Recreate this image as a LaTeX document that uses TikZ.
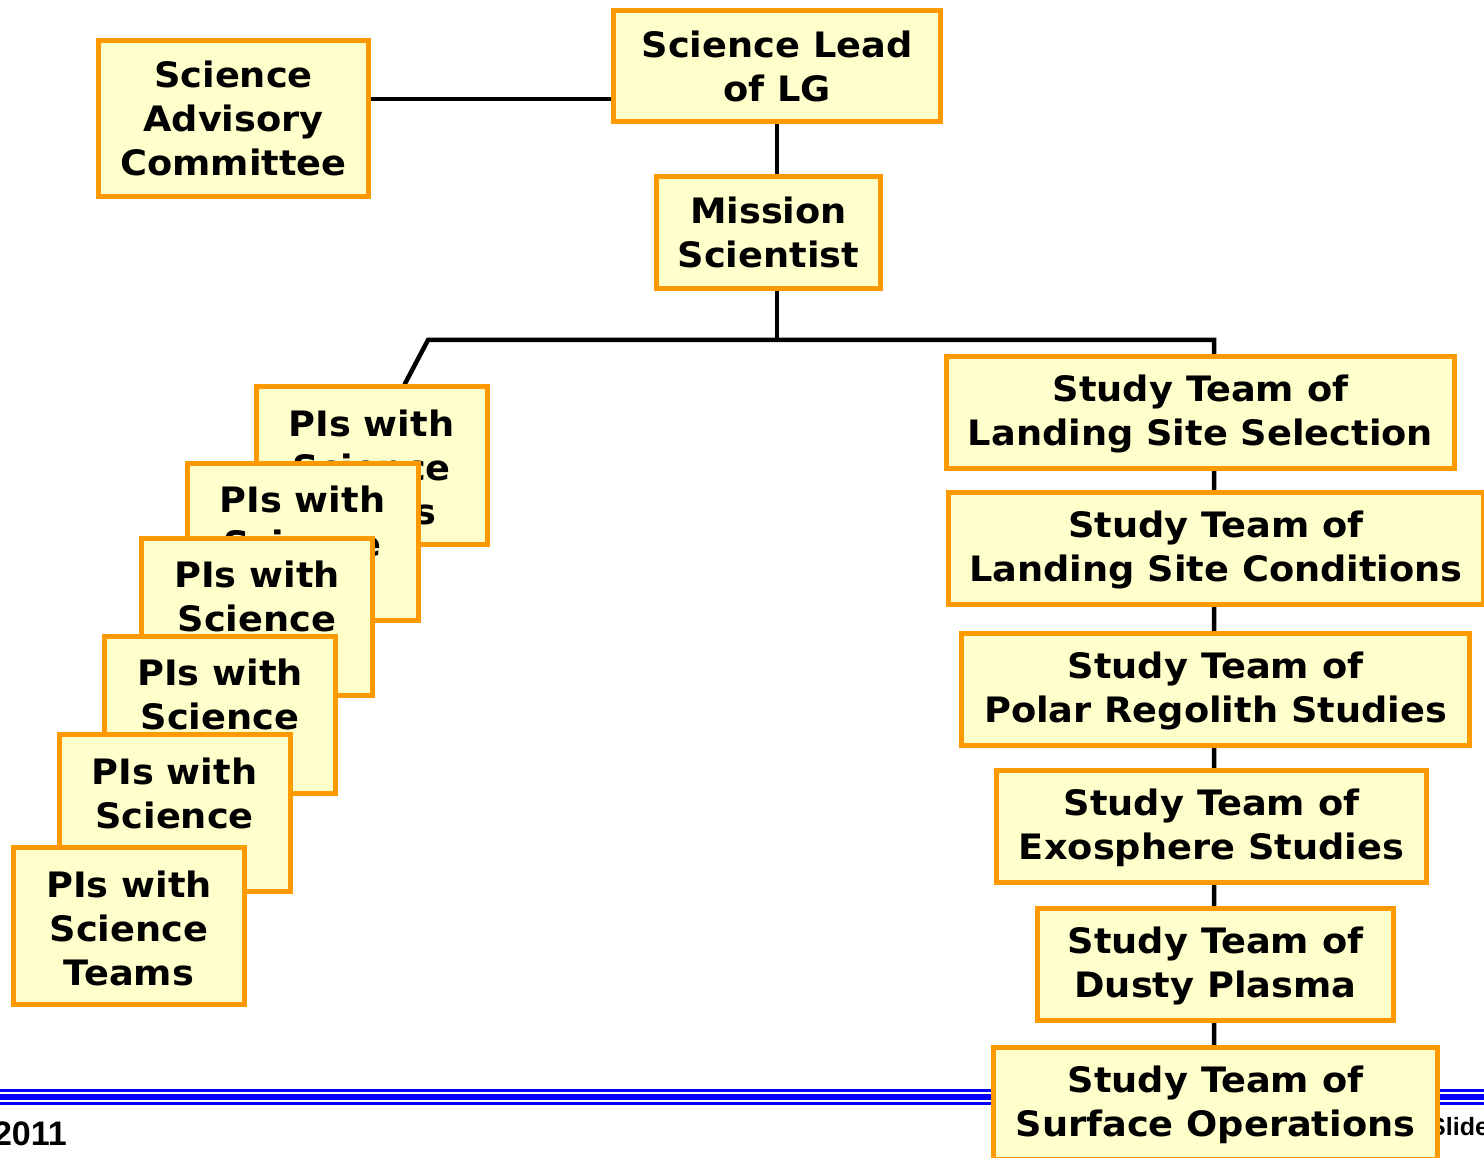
\documentclass[tikz,border=0pt]{standalone}
\usepackage{fontspec}
\newfontfamily\boxfont{DejaVu Sans}[FakeStretch=1.05]
\newfontfamily\footfont{Liberation Sans}
\usetikzlibrary{calc,backgrounds}
\definecolor{boxfill}{HTML}{FFFFCC}
\definecolor{boxline}{HTML}{FF9900}
\tikzset{
  orgbox/.style={draw=boxline,fill=boxfill,line width=5pt,align=center,
    inner sep=0pt,font=\boxfont\bfseries\fontsize{35}{44}\selectfont},
  link/.style={line width=4.5pt},
  footrule/.style={draw=blue}
}
\begin{document}
\begin{tikzpicture}[x=1pt,y=-1pt]
\useasboundingbox (0,0) rectangle (1484,1158);
% top of the chart
\node[orgbox,minimum width=327pt,minimum height=111pt] (lead) at (777,66) {Science Lead\\of LG};
\node[orgbox,minimum width=270pt,minimum height=156pt] (sac) at (233.5,118.5) {Science\\Advisory\\Committee};
\node[orgbox,minimum width=224pt,minimum height=112pt] (ms) at (768.5,232.5) {Mission\\Scientist};
% stack of PI boxes
\foreach \i/\cx/\cy in {1/371.5/465.5,2/302.5/541.5,3/257/616.5,4/220/714.5,5/174.5/813,6/129/926}
  \node[orgbox,minimum width=231pt,minimum height=157pt] (pi\i) at (\cx,\cy) {\rule{0pt}{31pt}PIs with\\Science\\Teams};
% study teams
\foreach \i/\cx/\cy/\w/\topic in {1/1200.5/412.5/508/Landing Site Selection,
    2/1216/548.5/535/Landing Site Conditions,3/1215.5/689.5/508/Polar Regolith Studies,
    4/1211.5/826.5/430/Exosphere Studies,5/1215.5/964.5/356/Dusty Plasma,
    6/1215.5/1103.5/444/Surface Operations}
  \node[orgbox,minimum width=\w pt,minimum height=112pt] (st\i) at (\cx,\cy) {\rule{0pt}{29pt}Study Team of\\\topic};
\coordinate (bus-l) at (428,340);
\coordinate (bus-r) at (1214,340);
\begin{pgfonlayer}{background}
% slide footer
\draw[footrule,line width=3pt] (0,1090) -- (1484,1090);
\draw[footrule,line width=6pt] (0,1096.5) -- (1484,1096.5);
\draw[footrule,line width=3pt] (0,1103) -- (1484,1103);
\node[font=\footfont\bfseries\fontsize{34}{40}\selectfont,anchor=base east,inner sep=0pt] (year) at (67,1145) {2011};
\node[font=\footfont\bfseries\fontsize{25}{30}\selectfont,anchor=base west,inner sep=0pt] (slide) at (1429,1135) {Slide};
% connectors
\draw[link] ($(sac.north east)!0.38!(sac.south east)$) coordinate (sac-tap) -- (sac-tap -| lead.west);
\draw[link] (lead.south) -- (lead.south |- ms.north);
\draw[link] (lead.south |- ms.south) -- (lead.south |- bus-l);
\draw[link] ($(pi1.north west)!0.64!(pi1.north east)$) -- (bus-l) -- (bus-r) -- (bus-r |- st6.north);
\end{pgfonlayer}
\end{tikzpicture}
\end{document}
